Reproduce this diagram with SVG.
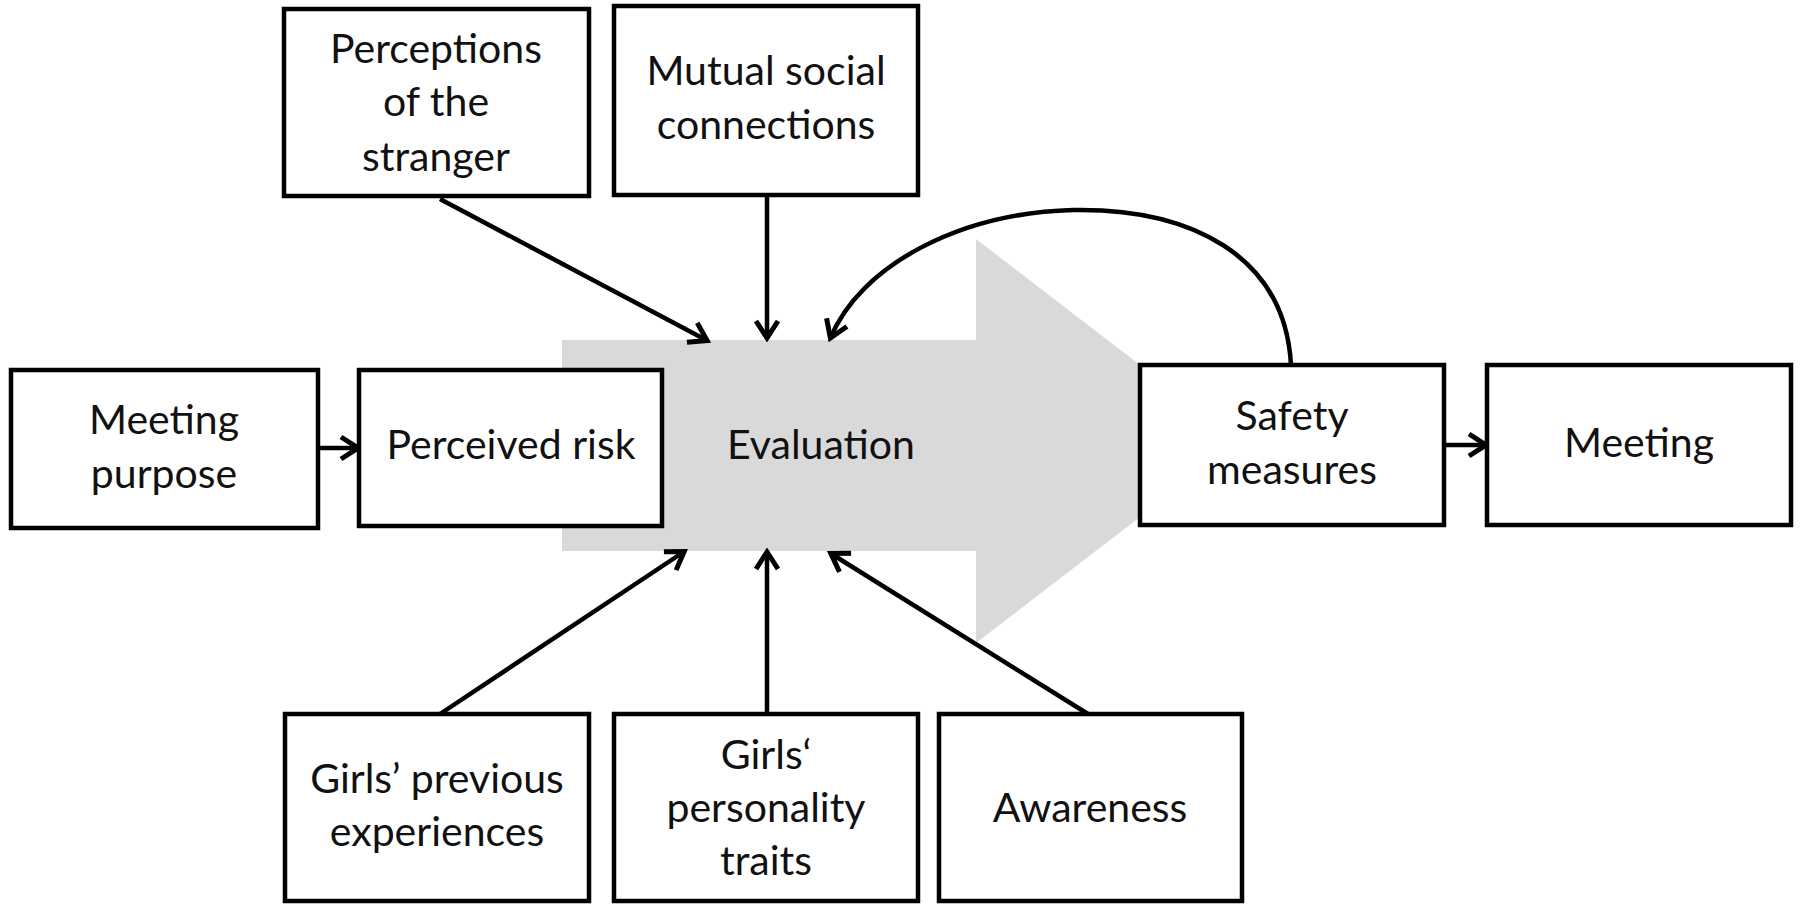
<svg xmlns="http://www.w3.org/2000/svg" width="1800" height="904" viewBox="0 0 1800 904">
<defs>
<marker id="ah" viewBox="0 0 24 28" refX="21" refY="14" markerWidth="24" markerHeight="28" markerUnits="userSpaceOnUse" orient="auto">
<path d="M3,3 L20,14 L3,25" fill="none" stroke="#000" stroke-width="5" stroke-linejoin="miter"/>
</marker>
</defs>
<style>
.box{fill:#fff;stroke:#000;stroke-width:4.5}
.t{font-family:Lato,"Open Sans","Liberation Sans",sans-serif;font-size:41px;fill:#111;text-anchor:middle}
.c{fill:none;stroke:#000;stroke-width:4.5}
</style>
<rect width="1800" height="904" fill="#fff"/>
<g id="evaluation">
<polygon points="562,340 976,340 976,239 1239,441 976,643 976,551 562,551" fill="#d9d9d9"/>
<text class="t" x="821" y="459">Evaluation</text>
</g>
<g id="connectors">
<line class="c" x1="440" y1="199" x2="708" y2="341" marker-end="url(#ah)"/>
<line class="c" x1="767" y1="196" x2="767" y2="339" marker-end="url(#ah)"/>
<path class="c" d="M1291,365 C1285,255 1190,208 1073,210 C960,213 860,265 830,339" marker-end="url(#ah)"/>
<line class="c" x1="440" y1="714" x2="685" y2="551" marker-end="url(#ah)"/>
<line class="c" x1="767" y1="714" x2="767" y2="551" marker-end="url(#ah)"/>
<line class="c" x1="1088" y1="714" x2="830" y2="553" marker-end="url(#ah)"/>
<line class="c" x1="318" y1="448" x2="359" y2="448" marker-end="url(#ah)"/>
<line class="c" x1="1444" y1="445" x2="1487" y2="445" marker-end="url(#ah)"/>
</g>
<g id="perceptions">
<rect class="box" x="284" y="9" width="305" height="187"/>
<text class="t" x="436" y="63">Perceptions</text>
<text class="t" x="436" y="116">of the</text>
<text class="t" x="436" y="171">stranger</text>
</g>
<g id="mutual">
<rect class="box" x="614" y="6" width="304" height="189"/>
<text class="t" x="766" y="85">Mutual social</text>
<text class="t" x="766" y="139">connections</text>
</g>
<g id="meeting-purpose">
<rect class="box" x="11" y="370" width="307" height="158"/>
<text class="t" x="164" y="434">Meeting</text>
<text class="t" x="164" y="488">purpose</text>
</g>
<g id="perceived-risk">
<rect class="box" x="359" y="370" width="303" height="156"/>
<text class="t" x="511" y="459">Perceived risk</text>
</g>
<g id="safety">
<rect class="box" x="1140" y="365" width="304" height="160"/>
<text class="t" x="1292" y="430">Safety</text>
<text class="t" x="1292" y="484">measures</text>
</g>
<g id="meeting">
<rect class="box" x="1487" y="365" width="304" height="160"/>
<text class="t" x="1639" y="457">Meeting</text>
</g>
<g id="previous">
<rect class="box" x="285" y="714" width="304" height="187"/>
<text class="t" x="437" y="793">Girls’ previous</text>
<text class="t" x="437" y="846">experiences</text>
</g>
<g id="personality">
<rect class="box" x="614" y="714" width="304" height="187"/>
<text class="t" x="766" y="769">Girls‘</text>
<text class="t" x="766" y="822">personality</text>
<text class="t" x="766" y="875">traits</text>
</g>
<g id="awareness">
<rect class="box" x="939" y="714" width="303" height="187"/>
<text class="t" x="1090" y="822">Awareness</text>
</g>
</svg>
